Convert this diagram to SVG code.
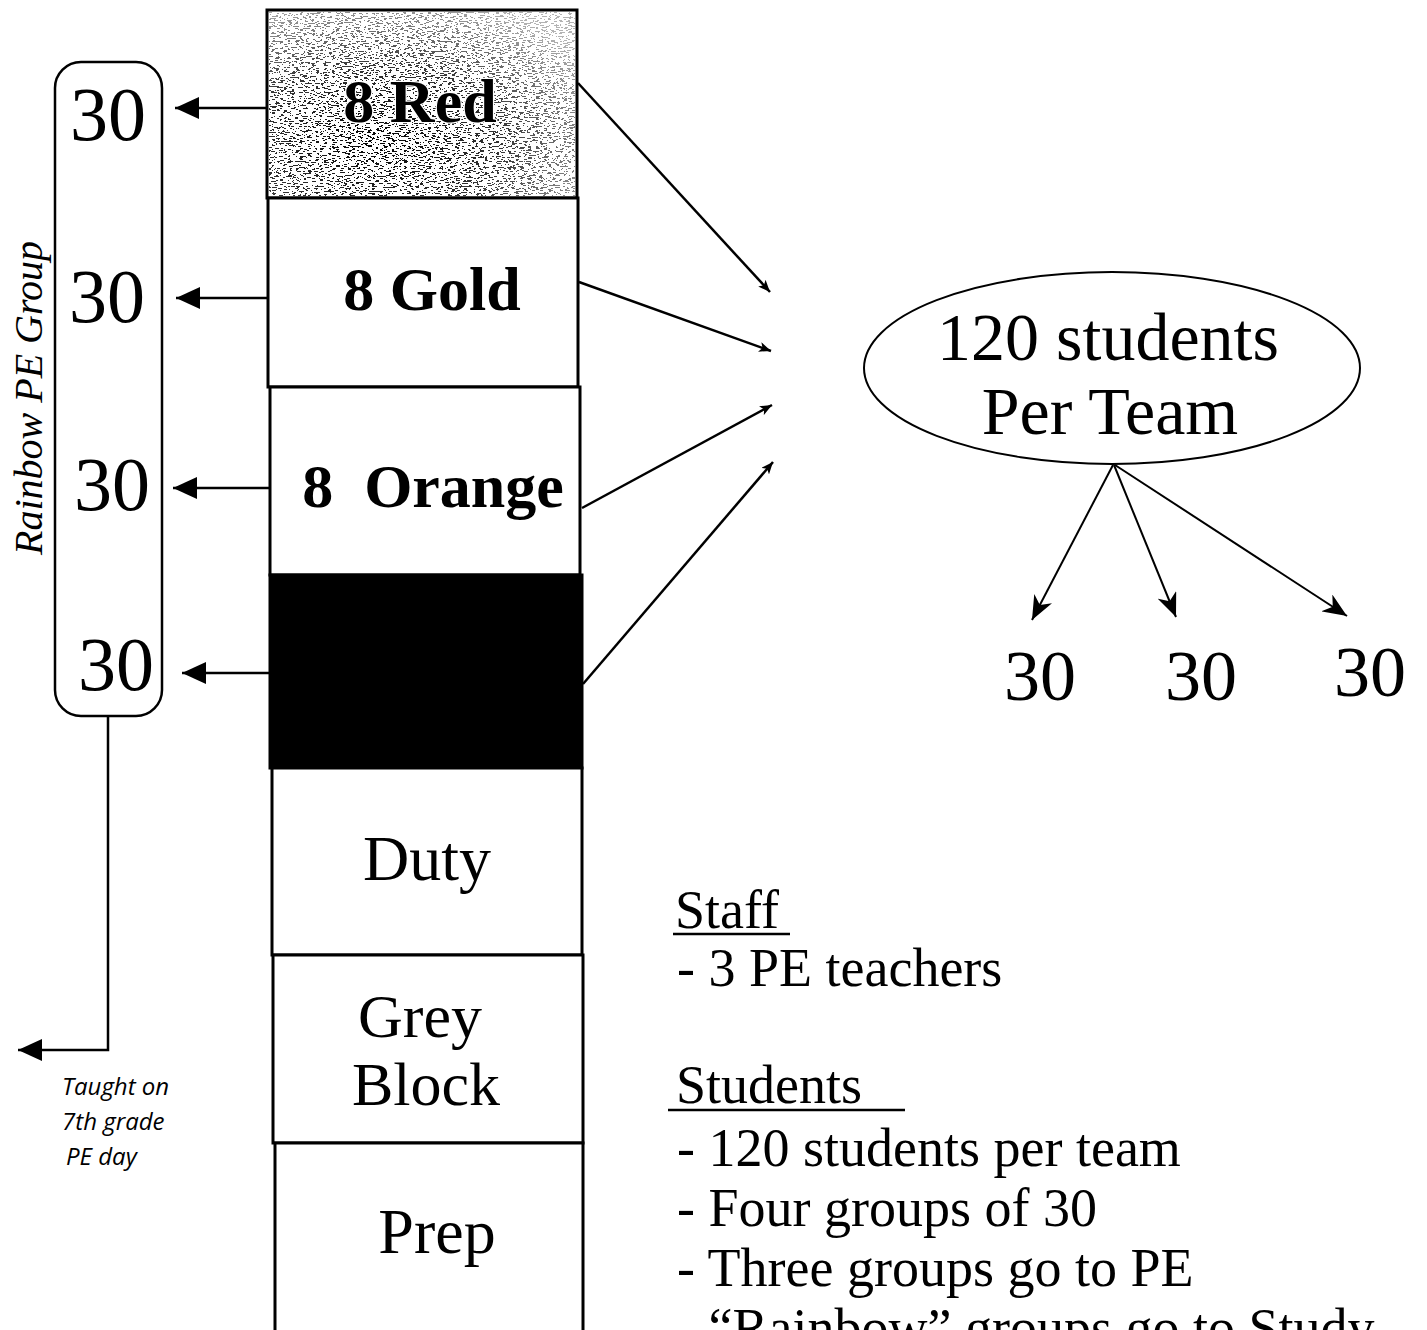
<svg xmlns="http://www.w3.org/2000/svg" width="1427" height="1330" viewBox="0 0 1427 1330">
  <style>
    .serif { font-family: "Liberation Serif", "DejaVu Serif", serif; fill: #000; }
    .bold { font-weight: bold; }
    .cell { fill: #fff; stroke: #000; stroke-width: 3; }
    .wire { fill: none; stroke: #000; stroke-width: 2.5; }
    .thin { fill: none; stroke: #000; stroke-width: 2; }
    .note { font-family: "Open Sans", "Liberation Sans", sans-serif; font-style: italic; font-size: 24px; fill: #000; }
    .list { font-size: 54px; }
  </style>
  <defs>
    <marker id="head-solid" viewBox="0 0 24 22" refX="24" refY="11" markerWidth="24" markerHeight="22" markerUnits="userSpaceOnUse" orient="auto">
      <path d="M0,0 L24,11 L0,22 z" fill="#000"/>
    </marker>
    <marker id="head-small" viewBox="0 0 12 10" refX="12" refY="5" markerWidth="12" markerHeight="10" markerUnits="userSpaceOnUse" orient="auto">
      <path d="M0,0 L12,5 L0,10 L3,5 z" fill="#000"/>
    </marker>
    <marker id="head-barb" viewBox="0 0 24 20" refX="24" refY="10" markerWidth="24" markerHeight="20" markerUnits="userSpaceOnUse" orient="auto">
      <path d="M0,0 L24,10 L0,20 L7,10 z" fill="#000"/>
    </marker>
    <!-- stipple texture for the top block: short horizontal flecks -->
    <filter id="stipple" x="0" y="0" width="100%" height="100%">
      <feTurbulence type="fractalNoise" baseFrequency="0.25 0.8" numOctaves="3" seed="7" result="noise"/>
      <feColorMatrix in="noise" type="matrix" values="0 0 0 0 0  0 0 0 0 0  0 0 0 0 0  1 0 0 0 0"/>
      <feComponentTransfer>
        <feFuncA type="discrete" tableValues="0 0 0 0 0 0 0 1 1 1 1 1"/>
      </feComponentTransfer>
    </filter>
    <radialGradient id="fade" cx="0.35" cy="0.7" r="0.8">
      <stop offset="0" stop-color="#fff" stop-opacity="1"/>
      <stop offset="0.5" stop-color="#fff" stop-opacity="0.8"/>
      <stop offset="1" stop-color="#fff" stop-opacity="0.3"/>
    </radialGradient>
    <mask id="fadeMask">
      <rect x="267" y="10" width="311" height="188" fill="url(#fade)"/>
    </mask>
  </defs>

  <rect width="1427" height="1330" fill="#fff"/>

  <!-- schedule column -->
  <g id="block-red">
    <rect class="cell" x="267" y="10" width="310" height="188"/>
    <rect x="269" y="12" width="306" height="184" filter="url(#stipple)" mask="url(#fadeMask)"/>
    <text class="serif bold" x="420" y="122" font-size="62" text-anchor="middle" stroke="#fff" stroke-width="2.5" paint-order="stroke">8 Red</text>
  </g>
  <g id="block-gold">
    <rect class="cell" x="268" y="198" width="310" height="189"/>
    <text class="serif bold" x="432" y="310" font-size="62" text-anchor="middle">8 Gold</text>
  </g>
  <g id="block-orange">
    <rect class="cell" x="270" y="387" width="310" height="188"/>
    <text class="serif bold" x="433" y="507" font-size="62" text-anchor="middle" xml:space="preserve">8  Orange</text>
  </g>
  <g id="block-black">
    <rect x="270" y="575" width="312" height="193" fill="#000" stroke="#000" stroke-width="3"/>
  </g>
  <g id="block-duty">
    <rect class="cell" x="272" y="768" width="310" height="187"/>
    <text class="serif" x="427" y="880" font-size="64" text-anchor="middle">Duty</text>
  </g>
  <g id="block-grey">
    <rect class="cell" x="273" y="955" width="310" height="188"/>
    <text class="serif" x="420" y="1037" font-size="62" text-anchor="middle">Grey</text>
    <text class="serif" x="426" y="1105" font-size="62" text-anchor="middle">Block</text>
  </g>
  <g id="block-prep">
    <rect class="cell" x="275" y="1143" width="308" height="200"/>
    <text class="serif" x="437" y="1253" font-size="64" text-anchor="middle">Prep</text>
  </g>

  <!-- rainbow group box -->
  <g id="rainbow-group">
    <rect x="55" y="62" width="107" height="654" rx="26" ry="26" fill="#fff" stroke="#000" stroke-width="2.5"/>
    <text class="serif" x="108" y="140" font-size="76" text-anchor="middle">30</text>
    <text class="serif" x="107" y="322" font-size="76" text-anchor="middle">30</text>
    <text class="serif" x="112" y="510" font-size="76" text-anchor="middle">30</text>
    <text class="serif" x="116" y="690" font-size="76" text-anchor="middle">30</text>
  </g>
  <g id="rainbow-label">
    <text class="serif" transform="translate(42 398) rotate(-90)" font-size="40" font-style="italic" text-anchor="middle">Rainbow PE Group</text>
  </g>
  <g id="taught-note">
    <text class="note" x="62" y="1095">Taught on</text>
    <text class="note" x="62" y="1130">7th grade</text>
    <text class="note" x="66" y="1165">PE day</text>
  </g>

  <!-- team total -->
  <g id="team-total">
    <ellipse cx="1112" cy="368" rx="248" ry="96" fill="#fff" stroke="#000" stroke-width="2"/>
    <text class="serif" x="1108" y="360" font-size="68" text-anchor="middle">120 students</text>
    <text class="serif" x="1110" y="434" font-size="68" text-anchor="middle">Per Team</text>
  </g>
  <g id="pe-groups">
    <text class="serif" x="1040" y="700" font-size="72" text-anchor="middle">30</text>
    <text class="serif" x="1201" y="700" font-size="72" text-anchor="middle">30</text>
    <text class="serif" x="1370" y="696" font-size="72" text-anchor="middle">30</text>
  </g>

  <!-- notes -->
  <g id="staff-notes">
    <text class="serif list" x="675" y="928">Staff</text>
    <line x1="673" y1="934" x2="790" y2="934" stroke="#000" stroke-width="2.5"/>
    <text class="serif list" x="677" y="986">- 3 PE teachers</text>
  </g>
  <g id="student-notes">
    <text class="serif list" x="676" y="1103">Students</text>
    <line x1="668" y1="1110" x2="905" y2="1110" stroke="#000" stroke-width="2.5"/>
    <text class="serif list" x="677" y="1166">- 120 students per team</text>
    <text class="serif list" x="677" y="1226">- Four groups of 30</text>
    <text class="serif list" x="677" y="1286">- Three groups go to PE</text>
    <text class="serif list" x="677" y="1346">- “Rainbow” groups go to Study</text>
  </g>

  <!-- connectors -->
  <g id="connectors">
    <line class="wire" x1="267" y1="108" x2="175" y2="108" marker-end="url(#head-solid)"/>
    <line class="wire" x1="268" y1="298" x2="176" y2="298" marker-end="url(#head-solid)"/>
    <line class="wire" x1="270" y1="488" x2="173" y2="488" marker-end="url(#head-solid)"/>
    <line class="wire" x1="270" y1="673" x2="182" y2="673" marker-end="url(#head-solid)"/>
    <polyline class="wire" points="108,716 108,1050 18,1050" marker-end="url(#head-solid)"/>

    <line class="wire" x1="578" y1="83" x2="770" y2="292" marker-end="url(#head-small)"/>
    <line class="wire" x1="579" y1="282" x2="771" y2="351" marker-end="url(#head-small)"/>
    <line class="wire" x1="582" y1="508" x2="772" y2="405" marker-end="url(#head-small)"/>
    <line class="wire" x1="583" y1="684" x2="773" y2="462" marker-end="url(#head-small)"/>

    <line class="thin" x1="1113" y1="465" x2="1032" y2="620" marker-end="url(#head-barb)"/>
    <line class="thin" x1="1114" y1="465" x2="1176" y2="617" marker-end="url(#head-barb)"/>
    <line class="thin" x1="1115" y1="465" x2="1347" y2="616" marker-end="url(#head-barb)"/>
  </g>
</svg>
